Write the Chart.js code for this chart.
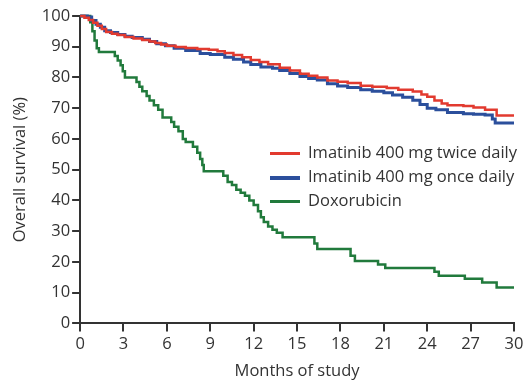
<!DOCTYPE html>
<html>
<head>
<meta charset="utf-8">
<script src="https://cdn.jsdelivr.net/npm/chart.js@4/dist/chart.umd.min.js"></script>
<style>
  html, body { margin: 0; padding: 0; background: #fff; }
  #wrap { position: relative; width: 527px; height: 383px; }
  #legend { position: absolute; left: 270px; top: 140px; font: 16.5px "Open Sans", sans-serif; color: #333; }
  #legend div { height: 24px; line-height: 23px; white-space: nowrap; }
  #legend span { display: inline-block; width: 30px; vertical-align: middle; margin-right: 8px; }
</style>
</head>
<body>
<div id="wrap">
  <canvas id="survival" width="527" height="383"></canvas>
  <div id="legend"></div>
</div>
<script>
const xTicks = [0, 3, 6, 9, 12, 15, 18, 21, 24, 27, 30];
const yTicks = [0, 10, 20, 30, 40, 50, 60, 70, 80, 90, 100];

const seriesNames = ['Imatinib 400 mg twice daily', 'Imatinib 400 mg once daily', 'Doxorubicin'];
const seriesColors = ['#e23a2f', '#2b4f9c', '#217a3c'];

// Kaplan-Meier steps: month of event, survival (%) after it
const twiceMonths = [0, 0.3, 0.6, 0.9, 1.2, 1.5, 1.8, 2.2, 2.6, 3.1, 3.7, 4.3, 4.8, 5.2, 5.6, 6.0, 6.6, 7.3, 8.1, 8.9,
  9.5, 10.0, 10.6, 11.2, 11.8, 12.4, 13.0, 13.8, 14.5, 15.2, 15.8, 16.4, 17.1, 17.8, 18.5, 19.4, 20.2, 21.2, 22.0,
  23.0, 23.6, 24.0, 24.5, 25.0, 25.4, 26.5, 27.2, 28.0, 28.8, 30];
const twiceSurv = [100, 99.4, 98.7, 97.8, 96.8, 95.8, 94.8, 94.2, 93.8, 93.2, 92.7, 92.2, 91.7, 91.2, 90.7, 90.3, 89.9,
  89.6, 89.3, 89.0, 88.5, 88.0, 87.3, 86.6, 85.7, 85.0, 84.3, 83.2, 82.3, 81.2, 80.6, 80.0, 79.0, 78.6, 78.2, 77.3,
  77.0, 76.6, 76.0, 75.4, 74.5, 73.7, 72.5, 71.5, 71.0, 70.7, 70.2, 69.5, 67.6, 67.6];

const onceMonths = [0, 0.5, 0.8, 1.1, 1.4, 1.7, 2.1, 2.6, 3.1, 3.6, 4.3, 4.8, 5.3, 5.9, 6.5, 7.3, 8.3, 9.0, 10.0, 10.6,
  11.3, 11.8, 12.5, 13.3, 13.8, 14.5, 15.2, 15.8, 16.4, 17.1, 17.8, 18.5, 19.4, 20.2, 21.0, 21.6, 22.3, 23.0, 23.5,
  24.0, 24.6, 25.4, 26.5, 27.2, 28.0, 28.5, 28.7, 30];
const onceSurv = [100, 99.7, 98.5, 97.3, 96.3, 95.2, 94.6, 94.0, 93.4, 93.0, 92.4, 91.7, 91.0, 90.3, 89.5, 88.8, 87.8,
  87.5, 86.6, 85.9, 85.0, 84.2, 83.4, 83.0, 82.3, 81.3, 80.3, 79.7, 79.2, 78.0, 77.2, 76.7, 76.0, 75.5, 75.0, 74.3,
  73.6, 72.6, 71.2, 70.0, 69.5, 68.6, 68.2, 68.0, 67.8, 66.5, 65.2, 65.2];

const doxoMonths = [0, 0.7, 0.85, 1.0, 1.15, 1.3, 2.4, 2.6, 2.8, 2.95, 3.1, 3.9, 4.1, 4.3, 4.6, 4.8, 5.1, 5.4, 5.7, 6.3,
  6.5, 6.8, 7.1, 7.3, 7.8, 8.1, 8.3, 8.45, 8.55, 9.9, 10.2, 10.5, 10.8, 11.1, 11.4, 11.7, 12.0, 12.3, 12.5, 12.7, 13.0,
  13.3, 13.6, 14.0, 16.2, 16.4, 18.7, 19.0, 20.6, 21.1, 24.5, 24.8, 26.6, 27.8, 28.8, 30];
const doxoSurv = [100, 98, 95, 92, 89.5, 88.3, 87, 85.5, 84, 82, 80, 78.5, 77, 75.5, 74, 72.5, 71, 69.5, 67, 65.5, 64,
  62.5, 60, 59, 57.5, 55.5, 53.5, 51.5, 49.5, 48, 46, 45, 43.5, 42.5, 41.5, 40, 38.5, 36.5, 34.5, 33, 31.5, 30.5, 29.5,
  28, 26, 24.2, 22, 20.3, 19.2, 18, 16.8, 15.5, 14.5, 13.3, 11.7, 11.7];

const toPoints = (months, surv) => months.map((m, i) => ({ x: m, y: surv[i] }));

const seriesData = [
  toPoints(twiceMonths, twiceSurv),
  toPoints(onceMonths, onceSurv),
  toPoints(doxoMonths, doxoSurv)
];
const lineWidths = [2.5, 3, 2.5];

const axisColor = '#333';
const font = { family: '"Open Sans", sans-serif', size: 16.5 };

const ctx = document.getElementById('survival').getContext('2d');
new Chart(ctx, {
  type: 'line',
  data: {
    datasets: seriesNames.map((name, i) => ({
      label: name,
      data: seriesData[i],
      borderColor: seriesColors[i],
      backgroundColor: seriesColors[i],
      borderWidth: lineWidths[i],
      stepped: true,
      pointRadius: 0,
      fill: false,
      clip: 4
    }))
  },
  options: {
    responsive: false,
    animation: false,
    layout: { padding: { top: 16, right: 13, left: 10, bottom: 2 } },
    scales: {
      x: {
        type: 'linear',
        min: 0,
        max: 30,
        afterBuildTicks: (axis) => { axis.ticks = xTicks.map((v) => ({ value: v })); },
        border: { display: true, color: axisColor, width: 2 },
        grid: { drawOnChartArea: false, tickLength: 8, color: axisColor, lineWidth: 2 },
        ticks: { color: axisColor, font: font, padding: 3, maxRotation: 0 },
        title: { display: true, text: 'Months of study', color: axisColor, font: font, padding: { top: 4, bottom: 0 } }
      },
      y: {
        min: 0,
        max: 100,
        afterBuildTicks: (axis) => { axis.ticks = yTicks.map((v) => ({ value: v })); },
        border: { display: true, color: axisColor, width: 2 },
        grid: { drawOnChartArea: false, tickLength: 8, color: axisColor, lineWidth: 2 },
        ticks: { color: axisColor, font: font, padding: 2 },
        title: { display: true, text: 'Overall survival (%)', color: axisColor, font: font, padding: { top: 0, bottom: 10 } }
      }
    },
    plugins: {
      legend: { display: false },
      tooltip: { enabled: false }
    }
  }
});

const legend = document.getElementById('legend');
seriesNames.forEach((name, i) => {
  const row = document.createElement('div');
  const swatch = document.createElement('span');
  swatch.style.borderTop = lineWidths[i] + 1 + 'px solid ' + seriesColors[i];
  row.appendChild(swatch);
  row.appendChild(document.createTextNode(name));
  legend.appendChild(row);
});
</script>
</body>
</html>
